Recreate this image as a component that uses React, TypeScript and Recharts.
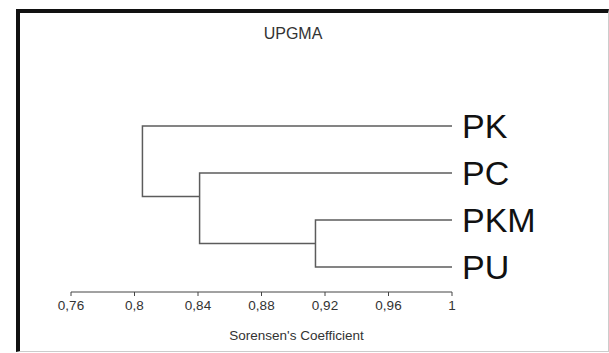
import React from 'react';
import { ComposedChart, Line, XAxis, YAxis } from 'recharts';

// leaves, top to bottom
const leaves = ['PK', 'PC', 'PKM', 'PU'];
const leafRows = [0, 1, 2, 3];

// merges (UPGMA), in the order they happen: [child A, child B]
const mergeChildren: [string, string][] = [
  ['PKM', 'PU'],
  ['PC', 'M1'],
  ['PK', 'M2'],
];
const mergeNames = ['M1', 'M2', 'M3'];
const mergeLevels = [0.914, 0.841, 0.805];
const mergeRows = [2.5, 1.5, 1];

const xTicks = [0.76, 0.8, 0.84, 0.88, 0.92, 0.96, 1];

const FONT = 'Arial, "Liberation Sans", sans-serif';
const LINE = '#5c5c5c';

const levelOf = (name: string) => {
  const i = mergeNames.indexOf(name);
  return i >= 0 ? mergeLevels[i] : 1;
};
const rowOf = (name: string) => {
  const i = mergeNames.indexOf(name);
  return i >= 0 ? mergeRows[i] : leafRows[leaves.indexOf(name)];
};

// one bracket per merge: child A -> merge level -> child B
const brackets = mergeChildren.map(([a, b], i) => [
  { x: levelOf(a), y: rowOf(a) },
  { x: mergeLevels[i], y: rowOf(a) },
  { x: mergeLevels[i], y: rowOf(b) },
  { x: levelOf(b), y: rowOf(b) },
]);

const fmt = (v: number) => String(v).replace('.', ',');

const LeafTick = (props: any) => {
  const { x, y, payload } = props;
  return (
    <text x={x} y={y} dy={12} fontSize={34} fontFamily={FONT} fill="#111" textAnchor="start">
      {leaves[payload.value]}
    </text>
  );
};

export default function App() {
  return (
    <div style={{ position: 'absolute', left: 0, top: 0, width: 609, height: 353, background: '#fff' }}>
      <div
        style={{
          position: 'absolute', left: 16, top: 9, width: 588, height: 338,
          borderLeft: '4px solid #111', borderTop: '4px solid #111',
          borderRight: '1px solid #ccc', borderBottom: '1px solid #ccc',
        }}
      />
      <div
        style={{
          position: 'absolute', left: 243, top: 25, width: 100, textAlign: 'center',
          fontFamily: FONT, fontSize: 16, color: '#333',
        }}
      >
        UPGMA
      </div>
      <div style={{ position: 'absolute', left: 0, top: 0 }}>
        <ComposedChart width={609} height={353} margin={{ top: 102.5, right: 57, bottom: 31, left: 71 }}>
          <XAxis
            type="number"
            dataKey="x"
            domain={[0.76, 1]}
            ticks={xTicks}
            tickFormatter={fmt}
            allowDataOverflow
            height={30}
            stroke="#444"
            tickSize={4}
            tickMargin={4}
            tick={{ fontSize: 13.5, fill: '#333', fontFamily: FONT }}
            label={{
              value: "Sorensen's Coefficient", position: 'bottom', offset: 8, dx: 35,
              fontSize: 13.5, fill: '#333', fontFamily: FONT,
            }}
          />
          <YAxis
            type="number"
            dataKey="y"
            orientation="right"
            reversed
            domain={[-0.5, 3.53]}
            ticks={leafRows}
            axisLine={false}
            tickLine={false}
            tickSize={0}
            tickMargin={10}
            width={100}
            tick={<LeafTick />}
          />
          {brackets.map((pts, i) => (
            <Line
              key={mergeNames[i]}
              data={pts}
              dataKey="y"
              type="linear"
              stroke={LINE}
              strokeWidth={1.5}
              dot={false}
              activeDot={false}
              isAnimationActive={false}
            />
          ))}
        </ComposedChart>
      </div>
    </div>
  );
}
